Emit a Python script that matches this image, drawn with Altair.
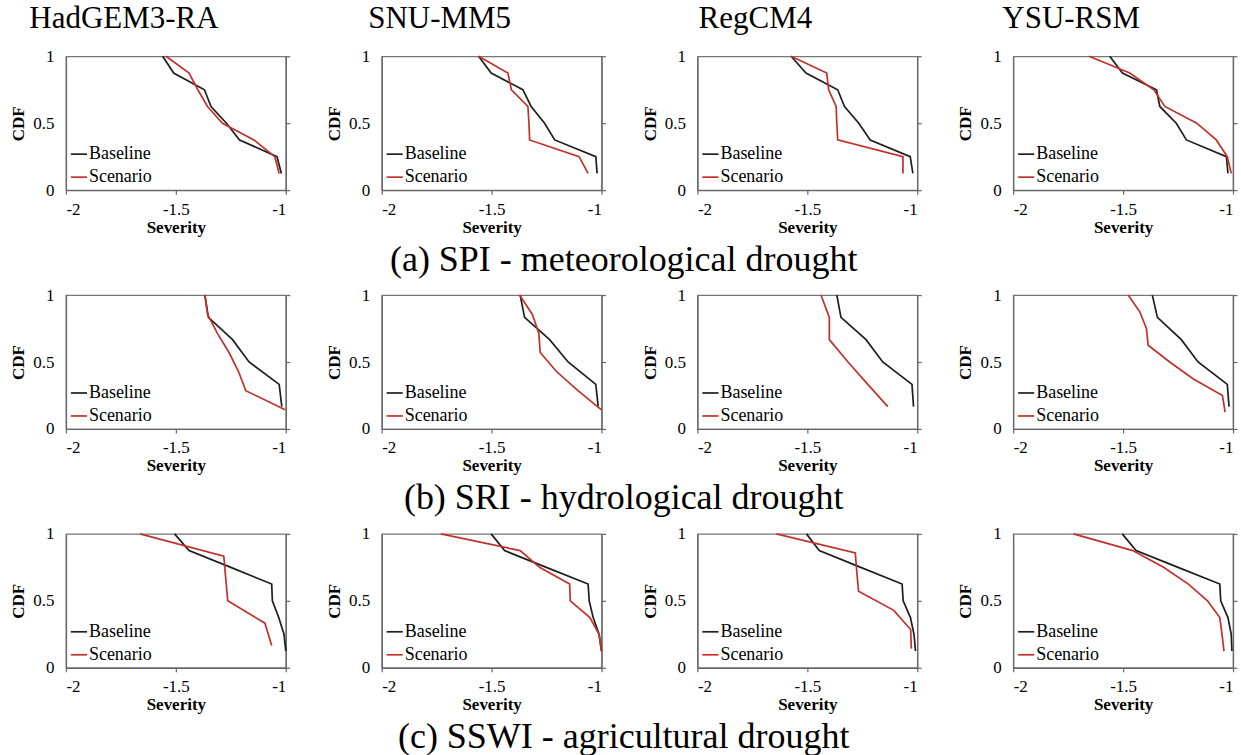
import altair as alt
import pandas as pd

MODELS = ["HadGEM3-RA", "SNU-MM5", "RegCM4", "YSU-RSM"]
ROW_TITLES = ["(a) SPI - meteorological drought",
              "(b) SRI - hydrological drought",
              "(c) SSWI - agricultural drought"]
SERIES = ["Baseline", "Scenario"]
COLORS = ["#1e1e1e", "#c3302c"]
X_TICKS = [-2, -1.5, -1]
Y_TICKS = [0, 0.5, 1]

# CDF levels
CDF8 = [1.0, 0.875, 0.75, 0.625, 0.5, 0.375, 0.25, 0.125]
CDF7 = [1.0, 0.857, 0.714, 0.571, 0.429, 0.286, 0.143]
CDF6 = [1.0, 0.833, 0.667, 0.5, 0.333, 0.167]

# (a) SPI severity values
spi_had_base = [-1.56, -1.51, -1.37, -1.34, -1.27, -1.21, -1.04, -1.02]
spi_had_scen = [-1.545, -1.44, -1.40, -1.356, -1.288, -1.145, -1.05, -1.03]
spi_snu_base = [-1.559, -1.502, -1.358, -1.32, -1.259, -1.213, -1.026, -1.02]
spi_snu_scen = [-1.559, -1.426, -1.41, -1.335, -1.33, -1.327, -1.102, -1.061]
spi_reg_base = [-1.574, -1.506, -1.362, -1.331, -1.266, -1.214, -1.032, -1.02]
spi_reg_scen = [-1.574, -1.412, -1.403, -1.369, -1.366, -1.362, -1.065, -1.065]
spi_ysu_base = [-1.561, -1.503, -1.348, -1.333, -1.258, -1.212, -1.03, -1.023]
spi_ysu_scen = [-1.655, -1.47, -1.36, -1.31, -1.165, -1.076, -1.026, -1.008]

# (b) SRI severity values
sri_had_base = [-1.368, -1.352, -1.242, -1.167, -1.03, -1.018]
sri_had_scen = [-1.368, -1.356, -1.311, -1.258, -1.215, -1.182, -1.003]
sri_snu_base = [-1.37, -1.35, -1.236, -1.152, -1.026, -1.015]
sri_snu_scen = [-1.373, -1.315, -1.285, -1.279, -1.205, -1.107, -1.0]
sri_reg_base = [-1.366, -1.347, -1.233, -1.157, -1.024, -1.017]
sri_reg_scen = [-1.438, -1.40, -1.40, -1.315, -1.225, -1.134]
sri_ysu_base = [-1.367, -1.344, -1.235, -1.159, -1.026, -1.018]
sri_ysu_scen = [-1.477, -1.424, -1.394, -1.386, -1.288, -1.182, -1.048, -1.036]

# (c) SSWI severity values
ssw_had_base = [-1.506, -1.44, -1.25, -1.064, -1.061, -1.032, -1.008, -1.0]
ssw_had_scen = [-1.663, -1.282, -1.273, -1.264, -1.095, -1.064]
ssw_snu_base = [-1.502, -1.441, -1.251, -1.061, -1.056, -1.038, -1.011, -1.0]
ssw_snu_scen = [-1.731, -1.37, -1.282, -1.145, -1.142, -1.053, -1.011, -1.0]
ssw_reg_base = [-1.504, -1.446, -1.257, -1.069, -1.064, -1.031, -1.015, -1.008]
ssw_reg_scen = [-1.641, -1.282, -1.275, -1.267, -1.107, -1.03, -1.027]
ssw_ysu_base = [-1.504, -1.441, -1.25, -1.06, -1.056, -1.023, -1.008, -1.005]
ssw_ysu_scen = [-1.726, -1.456, -1.316, -1.203, -1.116, -1.06, -1.05, -1.041]

PANELS = [
    [(spi_had_base, CDF8, spi_had_scen, CDF8), (spi_snu_base, CDF8, spi_snu_scen, CDF8),
     (spi_reg_base, CDF8, spi_reg_scen, CDF8), (spi_ysu_base, CDF8, spi_ysu_scen, CDF8)],
    [(sri_had_base, CDF6, sri_had_scen, CDF7), (sri_snu_base, CDF6, sri_snu_scen, CDF7),
     (sri_reg_base, CDF6, sri_reg_scen, CDF6), (sri_ysu_base, CDF6, sri_ysu_scen, CDF8)],
    [(ssw_had_base, CDF8, ssw_had_scen, CDF6), (ssw_snu_base, CDF8, ssw_snu_scen, CDF8),
     (ssw_reg_base, CDF8, ssw_reg_scen, CDF7), (ssw_ysu_base, CDF8, ssw_ysu_scen, CDF8)],
]

FONT = "Liberation Serif"
PW, PH = 220, 134


def panel(bx, by, sx, sy, title_text=None):
    rows = []
    for i, (x, y) in enumerate(zip(bx, by)):
        rows.append({"series": "Baseline", "sev": x, "cdf": y, "i": i})
    for i, (x, y) in enumerate(zip(sx, sy)):
        rows.append({"series": "Scenario", "sev": x, "cdf": y, "i": i})
    df = pd.DataFrame(rows)

    xs = alt.Scale(domain=[-2, -1], nice=False, zero=False)
    ys = alt.Scale(domain=[0, 1], nice=False)
    xenc = alt.X("sev:Q", scale=xs,
                 axis=alt.Axis(values=X_TICKS, title="Severity",
                               labelExpr="toString(datum.value)",
                               grid=False, tickSize=4, labelPadding=7,
                               titlePadding=2))
    lines = alt.Chart(df).mark_line(strokeWidth=1.7).encode(
        x=xenc,
        y=alt.Y("cdf:Q", scale=ys,
                axis=alt.Axis(values=Y_TICKS, title="CDF", grid=False,
                              labelExpr="toString(datum.value)",
                              ticks=False, labelPadding=12, titlePadding=5)),
        color=alt.Color("series:N",
                        scale=alt.Scale(domain=SERIES, range=COLORS),
                        legend=alt.Legend(orient="bottom-left", title=None,
                                          symbolType="stroke", symbolSize=260,
                                          symbolStrokeWidth=1.7,
                                          labelFont=FONT, labelFontSize=18,
                                          labelColor="black", rowPadding=5,
                                          offset=4, padding=0, labelOffset=1)),
        order="i:Q",
        detail="series:N",
    )
    right = alt.Chart(df).mark_point(opacity=0).encode(
        x=alt.X("sev:Q", scale=xs),
        y=alt.Y("cdf:Q", scale=ys,
                axis=alt.Axis(orient="right", values=Y_TICKS, labels=False,
                              title=None, grid=False, tickSize=4)),
    )
    ch = alt.layer(lines, right).resolve_axis(y="independent").properties(
        width=PW, height=PH)
    if title_text:
        ch = ch.properties(title=alt.TitleParams(
            text=title_text, font=FONT, fontSize=31, fontWeight="normal",
            color="black", anchor="middle", frame="group", dx=-52, offset=12))
    return ch


rows = []
for r, row in enumerate(PANELS):
    charts = []
    for c, (bx, by, sx, sy) in enumerate(row):
        charts.append(panel(bx, by, sx, sy, MODELS[c] if r == 0 else None))
    hc = alt.hconcat(*charts, spacing=96, bounds="flush").resolve_scale(
        color="independent").resolve_legend(color="independent").properties(
        title=alt.TitleParams(text=ROW_TITLES[r], orient="bottom", font=FONT,
                              fontSize=36, fontWeight="normal", color="black",
                              anchor="middle", offset=7))
    rows.append(hc)

chart = alt.vconcat(*rows, spacing=7).resolve_scale(
    color="independent").resolve_legend(color="independent").properties(
    padding={"left": 9, "top": 2, "right": 2, "bottom": 0},
    background="white"
).configure_view(stroke="#777777", strokeWidth=1.2).configure_axis(
    labelFont=FONT, labelFontSize=17, labelColor="black",
    titleFont=FONT, titleFontSize=17, titleFontWeight="bold", titleColor="black",
    domainColor="#666666", domainWidth=1.3, tickColor="#666666", tickWidth=1.2
)

chart.save("out.html", embed_options={"renderer": "svg", "actions": False})
